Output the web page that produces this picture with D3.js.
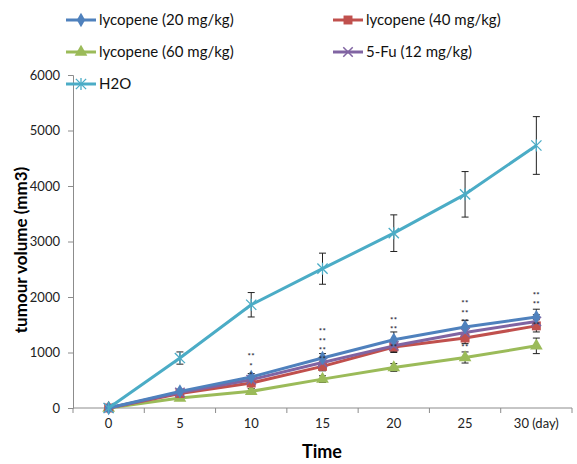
<!DOCTYPE html>
<html>
<head>
<meta charset="utf-8">
<script src="https://cdn.jsdelivr.net/npm/d3@7/dist/d3.min.js"></script>
<style>
  html, body { margin: 0; padding: 0; background: #fff; }
  svg { display: block; }
  text { font-family: Lato, "Open Sans", sans-serif; }
</style>
</head>
<body>
<svg id="chart" width="577" height="464"></svg>
<script>
// ---- data ----
const days = ["0", "5", "10", "15", "20", "25", "30"];
const dayLabels = ["0", "5", "10", "15", "20", "25", "30 (day)"];
const yTicks = [0, 1000, 2000, 3000, 4000, 5000, 6000];

const lyco20 = [0, 300, 560, 900, 1230, 1460, 1640];
const lyco20Err = [20, 40, 60, 80, 140, 120, 140];
const lyco40 = [0, 260, 450, 750, 1100, 1260, 1480];
const lyco40Err = [20, 40, 60, 80, 100, 100, 110];
const lyco60 = [0, 180, 300, 520, 730, 910, 1120];
const lyco60Err = [20, 30, 50, 60, 70, 100, 140];
const fu = [0, 280, 510, 820, 1120, 1360, 1560];
const fuErr = [20, 40, 60, 80, 100, 110, 120];
const h2o = [0, 900, 1860, 2510, 3150, 3850, 4730];
const h2oErr = [20, 110, 220, 280, 330, 410, 520];

const seriesNames = ["lycopene (20 mg/kg)", "lycopene (40 mg/kg)", "lycopene (60 mg/kg)", "5-Fu (12 mg/kg)", "H2O"];
const seriesColors = ["#4F81BD", "#C0504D", "#9BBB59", "#8064A2", "#4BACC6"];
const seriesMarkers = ["diamond", "square", "triangle", "x", "star"];

// significance asterisk stacks: day, value of the top row, rows of marks
const sigDays = ["10", "15", "20", "20", "25", "25", "30", "30"];
const sigVals = [955, 1410, 1620, 1135, 1910, 1135, 2070, 1514];
const sigRows = [["**", "*", "*"], ["**", "**", "**", "**"], ["**", "**"], ["**"], ["**", "**", "**"], ["**"], ["**", "**"], ["**"]];

// ---- chart ----
const svg = d3.select("#chart");
const W = 577, H = 464;
svg.append("rect").attr("width", W).attr("height", H).attr("fill", "#fff");

const x = d3.scaleBand().domain(days).range([73, 572]).paddingInner(0).paddingOuter(0);
const y = d3.scaleLinear().domain([0, 6000]).range([408, 75]);
const cx = d => x(d) + x.bandwidth() / 2;

const axisColor = "#8c8c8c";

// y axis
const yAxis = svg.append("g").attr("transform", "translate(73,0)")
  .call(d3.axisLeft(y).tickValues(yTicks).tickSize(5).tickPadding(8).tickFormat(d3.format("d")));
yAxis.select(".domain").attr("stroke", axisColor).attr("stroke-width", 1);
yAxis.selectAll(".tick line").attr("stroke", axisColor);
yAxis.selectAll(".tick text").attr("font-size", 13).attr("fill", "#222").attr("font-family", "Lato, sans-serif");

// x axis (category boundaries as ticks)
const xg = svg.append("g").attr("transform", "translate(0,408)");
xg.append("line").attr("x1", 73).attr("x2", 572).attr("y1", 0).attr("y2", 0).attr("stroke", axisColor);
const bounds = days.map(d => x(d)).concat([x(days[days.length - 1]) + x.bandwidth()]);
xg.selectAll("line.b").data(bounds).enter().append("line").attr("class", "b")
  .attr("x1", d => d).attr("x2", d => d).attr("y1", 0).attr("y2", 5).attr("stroke", axisColor);
xg.selectAll("text.lab").data(days).enter().append("text").attr("class", "lab")
  .attr("x", d => cx(d)).attr("y", 20).attr("text-anchor", "middle")
  .attr("font-size", 13).attr("fill", "#222")
  .text((d, i) => dayLabels[i]);

// axis titles
svg.append("text").attr("x", 322).attr("y", 458).attr("text-anchor", "middle")
  .attr("font-size", 18).attr("font-weight", "bold").attr("fill", "#000").text("Time");
svg.append("text").attr("transform", "translate(27,250) rotate(-90)").attr("text-anchor", "middle")
  .attr("font-size", 17).attr("font-weight", "bold").attr("fill", "#000").text("tumour volume (mm3)");

// series
const allSeries = [
  { v: lyco20, e: lyco20Err },
  { v: lyco40, e: lyco40Err },
  { v: lyco60, e: lyco60Err },
  { v: fu, e: fuErr },
  { v: h2o, e: h2oErr }
];

function drawMarker(g, type, color, px, py) {
  if (type === "diamond") {
    g.append("path").attr("d", d3.symbol().type(d3.symbolDiamond).size(60)())
      .attr("transform", `translate(${px},${py})`).attr("fill", color);
  } else if (type === "square") {
    g.append("path").attr("d", d3.symbol().type(d3.symbolSquare).size(80)())
      .attr("transform", `translate(${px},${py})`).attr("fill", color);
  } else if (type === "triangle") {
    g.append("path").attr("d", d3.symbol().type(d3.symbolTriangle).size(70)())
      .attr("transform", `translate(${px},${py})`).attr("fill", color);
  } else if (type === "x") {
    g.append("path").attr("d", d3.symbol().type(d3.symbolX).size(60)())
      .attr("transform", `translate(${px},${py})`).attr("fill", "none").attr("stroke", color).attr("stroke-width", 1.5);
  } else if (type === "star") {
    g.append("path").attr("d", d3.symbol().type(d3.symbolX).size(70)())
      .attr("transform", `translate(${px},${py})`).attr("fill", "none").attr("stroke", color).attr("stroke-width", 1.3);
    g.append("line").attr("x1", px).attr("x2", px).attr("y1", py - 6).attr("y2", py + 6)
      .attr("stroke", color).attr("stroke-width", 1.3);
  }
}

const line = d3.line().x((d, i) => cx(days[i])).y(d => y(d));

// error bars first (drawn under lines like Excel)
const eg = svg.append("g");
allSeries.forEach((s, si) => {
  s.v.forEach((v, i) => {
    if (i === 0) return;
    const px = cx(days[i]);
    const top = y(v + s.e[i]), bot = y(v - s.e[i]);
    eg.append("line").attr("x1", px).attr("x2", px).attr("y1", top).attr("y2", bot).attr("stroke", "#222").attr("stroke-width", 1);
    eg.append("line").attr("x1", px - 3.5).attr("x2", px + 3.5).attr("y1", top).attr("y2", top).attr("stroke", "#222").attr("stroke-width", 1);
    eg.append("line").attr("x1", px - 3.5).attr("x2", px + 3.5).attr("y1", bot).attr("y2", bot).attr("stroke", "#222").attr("stroke-width", 1);
  });
});

// lines + markers (draw in order 60, 40, 5-Fu, 20, H2O for visual stacking)
const order = [2, 1, 3, 0, 4];
order.forEach(si => {
  const s = allSeries[si];
  const g = svg.append("g");
  g.append("path").datum(s.v).attr("d", line).attr("fill", "none")
    .attr("stroke", seriesColors[si]).attr("stroke-width", 3).attr("stroke-linejoin", "round");
  s.v.forEach((v, i) => drawMarker(g, seriesMarkers[si], seriesColors[si], cx(days[i]), y(v)));
});

// significance asterisks: stacked rows of small marks
const sg = svg.append("g");
const rowGap = 9.4;
sigDays.forEach((d, k) => {
  sigRows[k].forEach((txt, j) => {
    sg.append("text").attr("x", cx(d)).attr("y", y(sigVals[k]) + j * rowGap + 4.5)
      .attr("text-anchor", "middle").attr("font-size", 8).attr("font-weight", "bold")
      .attr("fill", "#2a2a3a").attr("font-family", "DejaVu Sans, sans-serif")
      .attr("letter-spacing", 0.3).text(txt);
  });
});

// legend
const legPos = [[66, 20], [333, 20], [66, 52], [333, 52], [66, 84]];
const lg = svg.append("g");
seriesNames.forEach((name, i) => {
  const [lx, ly] = legPos[i];
  lg.append("line").attr("x1", lx).attr("x2", lx + 30).attr("y1", ly).attr("y2", ly)
    .attr("stroke", seriesColors[i]).attr("stroke-width", 3);
  drawMarker(lg, seriesMarkers[i], seriesColors[i], lx + 15, ly);
  lg.append("text").attr("x", lx + 33).attr("y", ly + 5).attr("font-size", 15)
    .attr("fill", "#111").text(name);
});
</script>
</body>
</html>
